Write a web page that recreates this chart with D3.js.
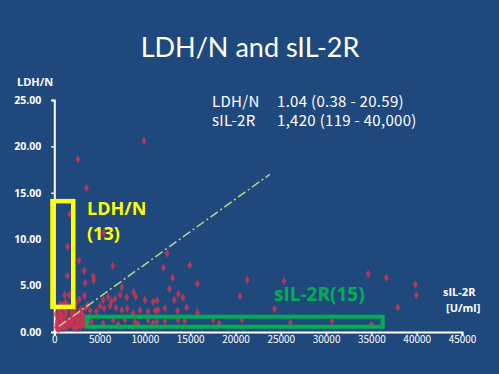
<!DOCTYPE html>
<html>
<head>
<meta charset="utf-8">
<script src="https://cdn.jsdelivr.net/npm/d3@7"></script>
<style>
  html, body { margin: 0; padding: 0; background: #1f497d; }
  svg { display: block; }
</style>
</head>
<body>
<div class="chart"></div>
<script>
// sIL-2R (U/ml) values
const sil2r = [
    9900, 2600, 3550, 1700, 1450, 5450,
    2720, 6450, 3300, 1450, 4300, 4350, 3400, 7450, 1150, 1650, 2750, 3350,
    5400, 5950, 6700, 8000, 8750, 9000, 7250, 6300, 10000, 10900, 11350,
    12050, 12450, 12700, 13050, 13700, 14200, 13250, 14950, 15800, 21300,
    20500, 25350, 34650, 36650, 39850, 39950, 37900, 24300, 12200, 14600,
    11150, 13600, 15800, 3700, 5050, 5500, 6150, 6800, 7450, 8050, 8700,
    9450, 10350, 11450, 2400, 3000, 3950, 4650,
    4100, 5400, 6500, 7050, 7800, 8900, 9250, 10350, 11300, 12200, 13650,
    14400, 17550, 18200, 20700, 10900, 26050, 30650, 35000,
    200, 320, 410, 480, 620, 690, 820, 880, 1020, 1080, 1230, 1290, 1380,
    1520, 1580, 1720, 1830, 1870, 2010, 2120, 2230, 2280, 2420, 2510, 2590,
    2730, 2790, 2920, 3010, 3120, 3180, 3310, 3420, 350, 640, 960, 1240,
    150, 760, 1060, 1560, 1940, 2360, 2640, 3060, 450, 860, 1340, 1760,
    2160, 2560, 260, 560, 3480
];
// LDH/N values, same order
const ldhn = [
    20.59, 18.6, 15.5, 12.7, 9.2, 10.7,
    7.7, 7.15, 6.6, 6.05, 6.0, 5.6, 5.3, 4.8, 4.0, 4.0, 3.55, 3.9,
    3.45, 3.8, 3.6, 3.75, 4.3, 3.8, 4.0, 3.3, 3.45, 3.25, 3.4,
    6.95, 8.45, 4.65, 5.85, 4.1, 3.7, 3.45, 7.2, 5.2, 5.6,
    3.85, 5.5, 6.25, 5.85, 5.1, 3.95, 2.65, 2.5, 2.55, 2.65,
    2.3, 2.3, 2.1, 2.9, 2.8, 2.55, 2.8, 2.65, 2.35, 2.55, 2.0,
    2.35, 2.2, 2.35, 3.1, 2.45, 2.3, 2.2,
    1.1, 0.95, 1.3, 0.85, 1.3, 1.1, 0.85, 1.3, 1.1, 1.2, 1.3,
    1.2, 1.3, 0.95, 1.3, 0.95, 1.05, 1.2, 0.8,
    0.5, 1.2, 0.8, 1.6, 0.4, 2.0, 1.0, 0.6, 1.4, 2.4, 0.9, 1.8, 0.5,
    1.2, 2.8, 0.7, 1.5, 2.1, 1.0, 0.45, 1.7, 2.5, 1.3, 0.8, 1.9,
    1.1, 2.2, 0.6, 1.5, 1.0, 1.8, 0.7, 1.3, 2.6, 3.0, 2.9, 3.2,
    1.9, 1.3, 0.38, 0.95, 1.35, 0.55, 1.55, 2.0, 0.25, 1.75, 2.2, 1.1,
    2.0, 0.4, 0.9, 2.3, 2.6
];

const xTicks = [0, 5000, 10000, 15000, 20000, 25000, 30000, 35000, 40000, 45000];
const yTicks = [0, 5, 10, 15, 20, 25];

// dash-dot guide line, in data units
const guideX = [500, 23800];
const guideY = [0.6, 17.0];

// highlighted groups, in data units [x0, x1, y0, y1]
const ldhBox = [-200, 2090, 2.7, 14.1];
const silBox = [3600, 36250, 0.57, 1.65];

const summaryLabels = ["LDH/N", "sIL-2R"];
const summaryValues = ["1.04 (0.38 - 20.59)", "1,420 (119 - 40,000)"];

const W = 499, H = 374;

const svg = d3.select(".chart").append("svg")
    .attr("width", W)
    .attr("height", H);

svg.append("rect")
    .attr("width", W)
    .attr("height", H)
    .attr("fill", "#1f497d");

const x = d3.scaleLinear().domain([0, 45000]).range([54.3, 462]);
const y = d3.scaleLinear().domain([0, 25]).range([332, 100]);

// title
svg.append("text")
    .attr("x", 250)
    .attr("y", 57)
    .attr("text-anchor", "middle")
    .attr("font-family", "Lato, 'Open Sans', sans-serif")
    .attr("font-size", 27)
    .attr("fill", "#ffffff")
    .text("LDH/N and sIL-2R");

// y axis
const yAxis = svg.append("g")
    .attr("transform", `translate(${x(0)},0)`)
    .call(d3.axisLeft(y).tickValues(yTicks).tickFormat(d3.format(".2f"))
        .tickSize(3).tickPadding(10));
yAxis.select(".domain").attr("stroke", "#fff").attr("stroke-width", 2);
yAxis.selectAll(".tick line").attr("stroke", "#fff").attr("stroke-width", 1.5);
yAxis.selectAll("text")
    .attr("fill", "#fff")
    .attr("font-family", "'Open Sans', sans-serif")
    .attr("font-weight", "bold")
    .attr("font-size", 10.5);

// x axis
const xAxis = svg.append("g")
    .attr("transform", `translate(0,${y(0)})`)
    .call(d3.axisBottom(x).tickValues(xTicks).tickFormat(d3.format("d"))
        .tickSize(3).tickPadding(1));
xAxis.select(".domain").attr("stroke", "#fff").attr("stroke-width", 2);
xAxis.selectAll(".tick line").attr("stroke", "#fff").attr("stroke-width", 1.5);
xAxis.selectAll("text")
    .attr("fill", "#fff")
    .attr("font-family", "'Noto Sans CJK JP', sans-serif")
    .attr("font-size", 10);

// axis titles
svg.append("text")
    .attr("x", 17)
    .attr("y", 86)
    .attr("fill", "#fff")
    .attr("font-family", "'Open Sans', sans-serif")
    .attr("font-weight", "bold")
    .attr("font-size", 11)
    .text("LDH/N");

svg.append("text")
    .attr("x", 443)
    .attr("y", 296)
    .attr("fill", "#fff")
    .attr("font-family", "'Open Sans', sans-serif")
    .attr("font-weight", "bold")
    .attr("font-size", 11)
    .text("sIL-2R");
svg.append("text")
    .attr("x", 446)
    .attr("y", 312)
    .attr("fill", "#fff")
    .attr("font-family", "'Open Sans', sans-serif")
    .attr("font-weight", "bold")
    .attr("font-size", 11)
    .text("[U/ml]");

// median (range) summary
summaryLabels.forEach((lab, i) => {
    svg.append("text")
        .attr("x", 212)
        .attr("y", 107 + i * 19)
        .attr("fill", "#fff")
        .attr("font-family", "'Noto Sans CJK JP', sans-serif")
        .attr("font-size", 15)
        .attr("letter-spacing", 0.3)
        .text(lab);
    svg.append("text")
        .attr("x", 277)
        .attr("y", 107 + i * 19)
        .attr("fill", "#fff")
        .attr("font-family", "'Noto Sans CJK JP', sans-serif")
        .attr("font-size", 15)
        .attr("letter-spacing", 0.3)
        .text(summaryValues[i]);
});

// points
const pts = sil2r.map((v, i) => [v, ldhn[i]]);
svg.append("g")
    .selectAll("path")
    .data(pts)
    .join("path")
    .attr("transform", d => `translate(${x(d[0])},${y(d[1])})`)
    .attr("d", d3.symbol(d3.symbolDiamond, 20))
    .attr("fill", "#d8344f")
    .attr("fill-opacity", 0.8);

// dash-dot guide
svg.append("line")
    .attr("x1", x(guideX[0]))
    .attr("y1", y(guideY[0]))
    .attr("x2", x(guideX[1]))
    .attr("y2", y(guideY[1]))
    .attr("stroke", "#b5d98a")
    .attr("stroke-width", 1.5)
    .attr("stroke-dasharray", "9,3,2,3");

// highlight boxes
svg.append("rect")
    .attr("x", x(ldhBox[0]))
    .attr("y", y(ldhBox[3]))
    .attr("width", x(ldhBox[1]) - x(ldhBox[0]))
    .attr("height", y(ldhBox[2]) - y(ldhBox[3]))
    .attr("fill", "none")
    .attr("stroke", "#ffff00")
    .attr("stroke-width", 4.5);

svg.append("rect")
    .attr("x", x(silBox[0]))
    .attr("y", y(silBox[3]))
    .attr("width", x(silBox[1]) - x(silBox[0]))
    .attr("height", y(silBox[2]) - y(silBox[3]))
    .attr("fill", "none")
    .attr("stroke", "#00b050")
    .attr("stroke-width", 4);

// group labels
svg.append("text")
    .attr("x", 87)
    .attr("y", 215)
    .attr("fill", "#ffff00")
    .attr("font-family", "'Open Sans', sans-serif")
    .attr("font-weight", "bold")
    .attr("font-size", 18)
    .text("LDH/N");
svg.append("text")
    .attr("x", 87)
    .attr("y", 240)
    .attr("fill", "#ffff00")
    .attr("font-family", "'Open Sans', sans-serif")
    .attr("font-weight", "bold")
    .attr("font-size", 18)
    .text("(13)");

svg.append("text")
    .attr("x", 274)
    .attr("y", 301)
    .attr("fill", "#00b050")
    .attr("font-family", "'Open Sans', sans-serif")
    .attr("font-weight", "bold")
    .attr("font-size", 19)
    .text("sIL-2R(15)");
</script>
</body>
</html>
